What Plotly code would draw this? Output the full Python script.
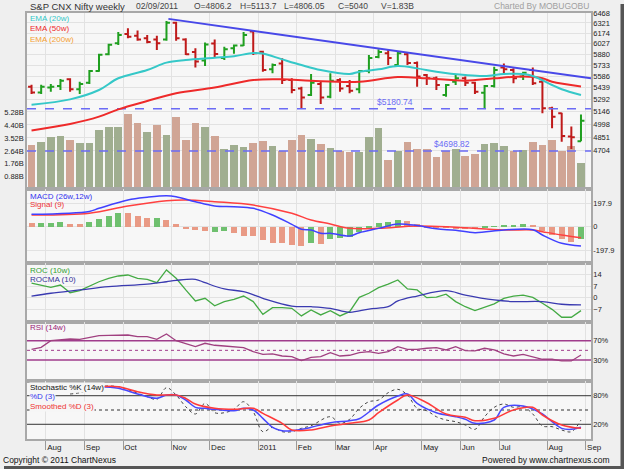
import math
import pandas as pd
import plotly.graph_objects as go
from plotly.subplots import make_subplots

# weekly bars, week ending Friday
weeks = pd.date_range("2010-07-30", periods=58, freq="7D")
bars = list(range(len(weeks)))

opens = [5453, 5380, 5445, 5462, 5548, 5421, 5505, 5655, 5880, 6030,
         6160, 6135, 6100, 6085, 6085, 6325, 6085, 5910, 5795, 6026,
         5828, 5961, 6000, 6196, 5913, 5677, 5755, 5539, 5432, 5350,
         5488, 5329, 5539, 5462, 5421, 5655, 5842, 5892, 5734, 5878,
         5760, 5603, 5561, 5350, 5517, 5561, 5505, 5378, 5462, 5703,
         5668, 5584, 5668, 5517, 5187, 5128, 4859, 4806.2]
highs = [5477, 5477, 5488, 5552, 5561, 5517, 5668, 5886, 6025, 6190,
         6245, 6210, 6147, 6135, 6350, 6340, 6100, 5960, 6040, 6085,
         5983, 6012, 6190, 6210, 5927, 5755, 5825, 5561, 5453, 5616,
         5517, 5625, 5561, 5539, 5668, 5869, 5947, 5937, 5910, 5910,
         5782, 5616, 5584, 5488, 5603, 5584, 5517, 5475, 5712, 5755,
         5690, 5646, 5703, 5561, 5207, 5135, 4972, 5113.7]
lows = [5362, 5362, 5390, 5412, 5390, 5362, 5488, 5646, 5865, 6006,
        6100, 6066, 6030, 5937, 6066, 6066, 5869, 5703, 5720, 5828,
        5801, 5886, 5992, 5869, 5646, 5625, 5488, 5371, 5187, 5338,
        5240, 5309, 5390, 5371, 5371, 5625, 5825, 5734, 5712, 5734,
        5453, 5475, 5412, 5329, 5475, 5462, 5362, 5187, 5445, 5625,
        5496, 5539, 5475, 5128, 4953, 4802, 4722, 4806.05]
closes = [5380, 5453, 5453, 5530, 5421, 5488, 5655, 5873, 6010, 6147,
          6122, 6085, 6050, 6030, 6325, 6100, 5880, 5782, 6015, 5882,
          5947, 6000, 6147, 5892, 5668, 5734, 5539, 5412, 5320, 5505,
          5320, 5530, 5432, 5403, 5655, 5828, 5910, 5828, 5892, 5760,
          5584, 5561, 5475, 5475, 5561, 5505, 5390, 5462, 5668, 5677,
          5561, 5632, 5496, 5187, 5088, 4866, 4851, 5040]
# volume in billions, and whether the volume bar is drawn as an up week
volume = [3.07, 3.26, 3.58, 3.67, 3.42, 3.21, 3.21, 4.06, 4.27, 4.32,
          5.20, 4.55, 3.97, 4.44, 3.74, 4.96, 3.42, 4.59, 4.27, 3.67,
          2.79, 3.02, 2.88, 3.19, 3.35, 2.95, 2.61, 3.42, 3.76, 3.47,
          3.14, 2.83, 2.61, 2.54, 2.54, 3.58, 4.23, 2.03, 2.61, 3.24,
          2.74, 2.74, 2.25, 2.61, 2.77, 2.29, 2.43, 3.14, 3.19, 2.95,
          2.61, 2.67, 3.24, 3.06, 3.42, 2.62, 2.95, 1.83]
vol_up = "pgggpggggg ppgpgpppgp gggppgpppg pgppgggpgp ppppgppggg pgppppp g"
vol_up = [c == "g" for c in vol_up.replace(" ", "")]

ema20_x = [0, 4, 7, 9, 12, 14, 16, 19, 21, 23, 24, 26, 28, 30, 33, 34, 36,
           38, 40, 42, 45, 47, 49, 51, 52, 54, 55, 57]
ema20 = [5231, 5296, 5412, 5561, 5668, 5766, 5801, 5831, 5853, 5897, 5889,
         5810, 5734, 5668, 5616, 5646, 5677, 5720, 5690, 5646, 5603, 5590,
         5616, 5616, 5590, 5475, 5421, 5350]
ema50_x = [0, 4, 7, 9, 12, 15, 19, 23, 26, 29, 34, 38, 41, 45, 48, 51, 53,
           54, 57]
ema50 = [4928, 5002, 5088, 5175, 5276, 5371, 5443, 5539, 5548, 5530, 5517,
         5578, 5561, 5530, 5561, 5584, 5561, 5517, 5457]

trend_x = [14.2, 58.04]
trend = [6381, 5560]
levels = [5180.74, 4698.82]

macd_x = [0, 6, 7, 10, 12, 14, 15, 17, 19, 21, 23, 25, 27, 28, 29, 30, 31,
          33, 34, 36, 38, 40, 42, 44, 46, 49, 52, 53, 55, 57]
macd = [105, 130, 156, 227, 250, 263, 255, 212, 176, 170, 156, 99, 20, -22,
        -28, -56, -56, -79, -51, -14, 23, 10, -18, -30, -51, -28, -25, -70,
        -141, -164]
signal_x = [0, 6, 10, 14, 16, 19, 23, 27, 29, 31, 33, 36, 40, 44, 49, 52,
            53, 55, 57]
signal = [99, 114, 176, 221, 227, 212, 184, 114, 57, 23, -14, -14, 6, -5,
          -28, -28, -42, -70, -93]
hist = [28, 28, 34, 37, 23, 23, 37, 62, 91, 116, 113, 91, 71, 71, 57, 20,
        -20, -28, -34, -45, -34, -51, -79, -79, -113, -136, -142, -156, -162,
        -142, -147, -108, -99, -85, -42, -14, 28, 40, 57, 48, 20, -8, -5, -14,
        -23, -23, -23, -8, 6, 11, 17, 23, 11, -34, -71, -108, -127, -108]
hist_up = "pgggppgggg pppgpppppg gppppppppg pggggggggp pppppppggg ggpppppg"
hist_up = [c == "g" for c in hist_up.replace(" ", "")]

roc = [8.8, 7.7, 6.3, 7.7, 3.0, 4.3, 7.1, 9.7, 11.8, 13.2, 13.8, 11.8, 11.2,
       9.1, 16.9, 11.8, 4.7, -2.0, -0.4, -4.9, -2.4, -1.0, 1.0, -2.4, -10.1,
       -6.1, -6.1, -6.5, -11.1, -7.5, -10.5, -7.9, -11.1, -8.5, 0.2, 2.7,
       6.1, 8.2, 10.8, 5.3, 4.7, 0.0, 0.3, 2.1, -2.4, -5.5, -7.9, -5.9, -3.8,
       -0.4, 1.0, 1.6, 0.2, -3.4, -7.1, -11.9, -11.9, -7.9]
rocma_x = [0, 2, 5, 8, 12, 14, 15, 17, 18, 20, 22, 24, 27, 29, 31, 33, 35,
           37, 38, 40, 43, 45, 48, 50, 53, 55, 57]
rocma = [1.0, 2.7, 4.7, 6.7, 8.2, 9.7, 10.5, 11.2, 9.1, 5.3, 3.7, -0.4, -5.1,
         -5.5, -6.5, -8.9, -6.9, -5.5, -2.0, 1.0, 4.3, 1.6, -1.4, -2.4, -2.4,
         -4.0, -4.4]

rsi = [52.2, 56.3, 70.0, 71.4, 73.5, 72.9, 76.2, 80.4, 81.2, 81.8, 81.8,
       78.3, 78.3, 72.9, 83.9, 70.0, 63.2, 57.6, 64.6, 60.5, 59.0, 57.6, 55.5,
       47.2, 41.8, 42.5, 38.3, 36.9, 28.6, 35.6, 36.9, 45.2, 38.3, 39.8, 45.2,
       47.2, 43.9, 47.2, 57.6, 52.2, 52.2, 54.3, 55.5, 50.8, 57.6, 49.3, 48.7,
       54.3, 50.8, 42.5, 38.3, 41.8, 36.9, 31.5, 31.5, 28.0, 28.0, 40.4]

stk_x = [4, 5, 7, 9, 11, 12, 13, 14, 15, 16, 17, 18, 19, 20, 21, 22, 23, 24,
         25, 26, 27, 28, 29, 31, 32, 33, 34, 35, 36, 37, 38, 39, 40, 41, 42,
         43, 44, 45, 46, 47, 48, 49, 50, 51, 52, 53, 54, 55, 56, 57]
stk = [83.6, 86.3, 98.9, 98.9, 85.0, 77.9, 72.4, 96.8, 81.5, 56.9, 41.6,
       64.0, 44.3, 44.3, 51.4, 67.4, 46.4, 4.4, 13.6, 4.4, 4.4, 11.5, 17.0,
       35.9, 22.0, 30.4, 53.5, 67.4, 71.0, 86.3, 93.4, 81.5, 53.5, 48.5, 35.9,
       29.0, 25.4, 18.5, 9.4, 35.9, 55.6, 62.6, 55.6, 56.9, 41.6, 16.4, 15.0,
       8.0, 4.4, 29.0]
std_x = [7, 9, 11, 13, 14, 15, 16, 17, 18, 19, 21, 22, 23, 24, 25, 26, 27,
         28, 29, 31, 33, 34, 36, 38, 39, 40, 42, 44, 45, 46, 48, 49, 51, 53,
         54, 55, 56, 57]
std = [98.9, 95.5, 83.6, 74.5, 81.5, 81.5, 71.0, 55.6, 53.5, 51.4, 48.5,
       53.5, 50.0, 32.5, 13.6, 6.5, 6.5, 9.4, 13.6, 23.3, 27.5, 31.7, 60.5,
       79.4, 83.6, 64.0, 44.3, 35.9, 30.4, 22.0, 29.0, 55.6, 58.4, 41.6, 25.4,
       11.5, 9.4, 13.6]
sms_x = [7, 9, 11, 13, 15, 16, 17, 19, 21, 23, 24, 26, 27, 29, 31, 33, 35,
         36, 38, 39, 41, 43, 45, 46, 48, 50, 52, 53, 55, 57]
sms = [98.9, 98.9, 88.4, 81.5, 81.5, 74.5, 62.6, 53.5, 51.4, 53.5, 43.0,
       22.0, 8.0, 8.0, 16.4, 22.0, 29.0, 44.3, 71.0, 81.5, 65.3, 41.6, 34.6,
       27.5, 32.5, 50.0, 55.6, 39.5, 18.5, 11.5]

price_ticks = [4704, 4851, 4998, 5146, 5292, 5439, 5586, 5733, 5880, 6027,
               6174, 6321, 6468]
vol_ticks = [0.88, 1.76, 2.64, 3.52, 4.40, 5.28]

# month ticks sit at the right edge of the first week of each month
month_pos, month_txt = [], []
for i in range(1, len(weeks)):
    d = weeks[i]
    if d.month != weeks[i - 1].month:
        month_pos.append(i + 0.5)
        month_txt.append(str(d.year) if d.month == 1 else d.strftime("%b"))

FONT = "Liberation Sans, Arial, sans-serif"
GREEN, RED = "#1f9f1f", "#bf1a1a"
XR = [-0.47, 58.04]

fig = make_subplots(rows=5, cols=1, shared_xaxes=True, vertical_spacing=0,
                    row_heights=[176, 74, 59, 59, 58],
                    specs=[[{"secondary_y": True}], [{}], [{}], [{}], [{}]])

# volume underneath the price bars
fig.add_trace(go.Bar(x=bars, y=volume, width=0.8,
                     marker=dict(color=["#a0ae90" if u else "#d0a595" for u in vol_up],
                                 line=dict(width=0))),
              row=1, col=1, secondary_y=False)
for lv in levels:
    fig.add_trace(go.Scatter(x=XR, y=[lv, lv], mode="lines",
                             line=dict(color="#6b6bf5", width=1.5, dash="dash")),
                  row=1, col=1, secondary_y=True)
fig.add_trace(go.Scatter(x=ema50_x, y=ema50, mode="lines", line=dict(color="#ee2a2a", width=2, shape="spline")),
              row=1, col=1, secondary_y=True)
fig.add_trace(go.Scatter(x=ema20_x, y=ema20, mode="lines", line=dict(color="#35c8c8", width=2, shape="spline")),
              row=1, col=1, secondary_y=True)
fig.add_trace(go.Scatter(x=trend_x, y=trend, mode="lines", line=dict(color="#4848e8", width=2)),
              row=1, col=1, secondary_y=True)
fig.add_trace(go.Ohlc(x=bars, open=opens, high=highs, low=lows, close=closes,
                      tickwidth=0.36,
                      increasing=dict(line=dict(color=GREEN, width=2)),
                      decreasing=dict(line=dict(color=RED, width=2))),
              row=1, col=1, secondary_y=True)

# MACD
fig.add_trace(go.Bar(x=bars, y=hist, width=0.62,
                     marker=dict(color=["#6fc06f" if u else "#e99a85" for u in hist_up],
                                 line=dict(width=0))), row=2, col=1)
fig.add_trace(go.Scatter(x=signal_x, y=signal, mode="lines", line=dict(color="#ff4040", width=1.5, shape="spline")), row=2, col=1)
fig.add_trace(go.Scatter(x=macd_x, y=macd, mode="lines", line=dict(color="#4040ff", width=1.5, shape="spline")), row=2, col=1)

# ROC
fig.add_trace(go.Scatter(x=bars, y=roc, mode="lines", line=dict(color="#44aa44", width=1.3)), row=3, col=1)
fig.add_trace(go.Scatter(x=rocma_x, y=rocma, mode="lines", line=dict(color="#3a3ab0", width=1.3, shape="spline")), row=3, col=1)

# RSI
for lv, dash in [(70, "solid"), (50, "dot"), (30, "solid")]:
    fig.add_trace(go.Scatter(x=XR, y=[lv, lv], mode="lines",
                             line=dict(color="#a03c8c", width=1.5 if dash == "solid" else 1, dash=dash)),
                  row=4, col=1)
fig.add_trace(go.Scatter(x=bars, y=rsi, mode="lines", line=dict(color="#a04080", width=1.3)), row=4, col=1)

# Stochastic
for lv, dash in [(80, "solid"), (50, "dot"), (20, "solid")]:
    fig.add_trace(go.Scatter(x=XR, y=[lv, lv], mode="lines",
                             line=dict(color="#333333", width=1, dash=dash)),
                  row=5, col=1)
fig.add_trace(go.Scatter(x=stk_x, y=stk, mode="lines", line=dict(color="#444444", width=1, dash="dot", shape="spline")), row=5, col=1)
fig.add_trace(go.Scatter(x=std_x, y=std, mode="lines", line=dict(color="#4848ff", width=1.5, shape="spline")), row=5, col=1)
fig.add_trace(go.Scatter(x=sms_x, y=sms, mode="lines", line=dict(color="#ff3a3a", width=1.5, shape="spline")), row=5, col=1)

fig.update_traces(hoverinfo="skip", showlegend=False)

axis_common = dict(showline=True, mirror=True, linecolor="#a8a8a8", linewidth=1.5,
                   tickfont=dict(size=7.5, color="#222"), ticks="", automargin=False)
fig.update_xaxes(domain=[0, 1], range=XR, tickvals=month_pos, ticktext=month_txt, showgrid=True,
                 gridcolor="#e2e2e2", gridwidth=1, zeroline=False,
                 rangeslider=dict(visible=False), **axis_common)
for r in (1, 2, 3, 4):
    fig.update_xaxes(showticklabels=False, row=r, col=1)
fig.update_xaxes(showticklabels=True, ticks="outside", ticklen=9, tickcolor="#9a9a9a",
                 tickfont=dict(size=8), ticklabelposition="outside right", row=5, col=1)

fig.update_yaxes(**axis_common)
fig.update_yaxes(range=[0, 12.2], tickvals=vol_ticks, ticktext=[f"{v:.2f}B" for v in vol_ticks],
                 side="left", showgrid=False, zeroline=False, row=1, col=1, secondary_y=False)
fig.update_yaxes(type="log", range=[3.6338, 3.8108], tickvals=price_ticks,
                 ticktext=[str(v) for v in price_ticks], side="right", showgrid=True,
                 gridcolor="#e2e2e2", ticklabelstandoff=-1, row=1, col=1, secondary_y=True)
fig.update_yaxes(range=[-308, 320], tickvals=[-197.9, 0, 197.9], ticktext=["-197.9", "0", "197.9"],
                 side="right", showgrid=True, gridcolor="#e2e2e2", zeroline=False,
                 ticklabelstandoff=-1, row=2, col=1)
fig.update_yaxes(range=[-14.8, 21.1], tickvals=[-7, 0, 7, 14], side="right", showgrid=True,
                 gridcolor="#e2e2e2", zeroline=False, ticklabelstandoff=-1, row=3, col=1)
fig.update_yaxes(range=[-13.5, 108.7], tickvals=[30, 70], ticktext=["30%", "70%"], side="right",
                 showgrid=False, zeroline=False, ticklabelstandoff=-1, row=4, col=1)
fig.update_yaxes(range=[-10.9, 110.9], tickvals=[20, 80], ticktext=["20%", "80%"], side="right",
                 showgrid=False, zeroline=False, ticklabelstandoff=-1, row=5, col=1)


def px(x):
    return (x - 27) / 564


def py(y):
    return (439 - y) / 426


def label(text, x, y, color, size=8, anchor="left", bg=None):
    fig.add_annotation(text=text, x=px(x), y=py(y), xref="paper", yref="paper",
                       xanchor=anchor, yanchor="middle", showarrow=False,
                       font=dict(size=size, color=color, family=FONT),
                       bgcolor=bg, borderpad=0)


label("S&P CNX Nifty weekly", 29, 6, "#333", size=9.5)
label(weeks[-1].strftime("%d/%m/%Y"), 135, 6, "#444", size=8.5)
label(f"O={opens[-1]}", 193, 6, "#444", size=8.5)
label(f"H={highs[-1]}", 239, 6, "#444", size=8.5)
label(f"L={lows[-1]}", 283, 6, "#444", size=8.5)
label(f"C={closes[-1]}", 337, 6, "#444", size=8.5)
label(f"V={volume[-1]}B", 380, 6, "#444", size=8.5)
label("Charted By MOBUGOBU", 590, 6, "#a0a0a0", size=8.5, anchor="right")

label("EMA (20w)", 29, 19, "#35c8c8")
label("EMA (50w)", 29, 29, "#ee2a2a")
label("EMA (200w)", 29, 39, "#f5a030")
label("MACD (26w,12w)", 29, 196, "#3333ee")
label("Signal (9)", 29, 205, "#ee3333")
label("ROC (10w)", 29, 270, "#33a033")
label("ROCMA (10)", 29, 279, "#333399")
label("RSI (14w)", 29, 327, "#992277")
label("Stochastic %K (14w)", 29, 387, "#111", bg="#f6f6f6")
label("%D (3)", 29, 396, "#3333ee", bg="#f6f6f6")
label("Smoothed %D (3)", 29, 406, "#ee3333", bg="#f6f6f6")

for lv, xl in zip(levels, [375, 432]):
    fig.add_annotation(text=f"${lv:.2f}", x=(xl - 31.5) / 9.64, y=math.log10(lv),
                       xref="x", yref="y2", xanchor="left", yanchor="bottom", showarrow=False,
                       font=dict(size=8.5, color="#6b6bf5", family=FONT))

label("Copyright © 2011 ChartNexus", 2, 460, "#111", size=8.5)
label("Powered by www.chartnexus.com", 611, 460, "#111", size=8.5, anchor="right")

# drop shadow along the right and bottom edges of the image
fig.add_shape(type="rect", xref="paper", yref="paper", x0=px(620.5), x1=px(624), y0=py(469), y1=py(4),
              fillcolor="#555", line=dict(width=0), layer="above")
fig.add_shape(type="rect", xref="paper", yref="paper", x0=px(4), x1=px(624), y0=py(469), y1=py(466),
              fillcolor="#555", line=dict(width=0), layer="above")

fig.update_layout(width=624, height=469, margin=dict(l=27, r=33, t=13, b=30),
                  paper_bgcolor="#efefef", plot_bgcolor="#f7f7f7", bargap=0,
                  font=dict(family=FONT, size=8, color="#222"), showlegend=False)

fig.write_html("out.html", config={"displayModeBar": False},
               post_script="document.body.style.margin='0px';")
